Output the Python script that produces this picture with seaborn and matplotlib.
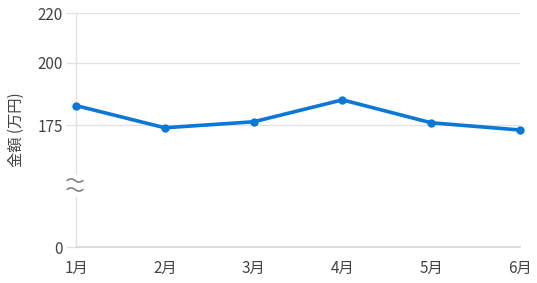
import matplotlib
matplotlib.use("Agg")
import matplotlib.pyplot as plt
import seaborn as sns
import pandas as pd
import numpy as np
from matplotlib.patches import Rectangle
from matplotlib.lines import Line2D

months = ["1月", "2月", "3月", "4月", "5月", "6月"]
amounts = [182.8, 173.9, 176.3, 185.1, 175.9, 173.0]
ytick_values = [175, 200, 220]
axis_floor = 126  # value shown as "0" at the bottom of the broken axis
y_top = 220

sns.set_theme(style="white")
plt.rcParams["font.family"] = ["Noto Sans CJK JP", "DejaVu Sans"]

W, H = 537, 283
fig = plt.figure(figsize=(W / 100, H / 100), dpi=100)
left, right, top, bottom = 76, 520, 13, 247
ax = fig.add_axes([left / W, 1 - bottom / H, (right - left) / W, (bottom - top) / H])

df = pd.DataFrame({"month": months, "amount": amounts})
sns.lineplot(data=df, x="month", y="amount", ax=ax, color="#0A78D6", linewidth=2.6,
             marker="o", markersize=6, markeredgewidth=0, sort=False, zorder=5, clip_on=False)

ax.set_xlim(0, len(months) - 1)
ax.set_ylim(axis_floor, y_top)
ax.set_yticks([axis_floor] + ytick_values)
ax.set_yticklabels(["0"] + [str(v) for v in ytick_values])
grid_c = "#e2e2e2"
for v in ytick_values:
    ax.axhline(v, color=grid_c, linewidth=1.0, zorder=1)

for s in ["top", "right"]:
    ax.spines[s].set_visible(False)
ax.spines["left"].set_color(grid_c)
ax.spines["left"].set_linewidth(1.0)
ax.spines["bottom"].set_color("#d8d8d8")
ax.spines["bottom"].set_linewidth(1.2)

ax.tick_params(axis="y", length=7.5, width=1.0, color=grid_c, pad=2, labelsize=11, labelcolor="#444444", left=True)
ax.tick_params(axis="x", length=0, pad=9, labelsize=11, labelcolor="#444444")
ax.set_xlabel("")
ax.set_ylabel("金額 (万円)", fontsize=11, color="#444444", labelpad=9)

# axis break: gap in the left spine and a wavy "≈" mark
gap_top, gap_bot = 175, 197
ax.add_patch(Rectangle(((left - 3) / W, 1 - gap_bot / H), 6 / W, (gap_bot - gap_top) / H,
                       transform=fig.transFigure, facecolor="white", edgecolor="none",
                       zorder=3, clip_on=False))
t = np.linspace(0, 1, 40)
xs = (67 + 16 * t) / W
for yc in (180.5, 189.5):
    ys = 1 - (yc - 1.6 * np.sin(2 * np.pi * t)) / H
    fig.add_artist(Line2D(xs, ys, transform=fig.transFigure, color="#7a7a7a",
                          linewidth=1.1, zorder=6))

fig.savefig("out.png", dpi=100)
